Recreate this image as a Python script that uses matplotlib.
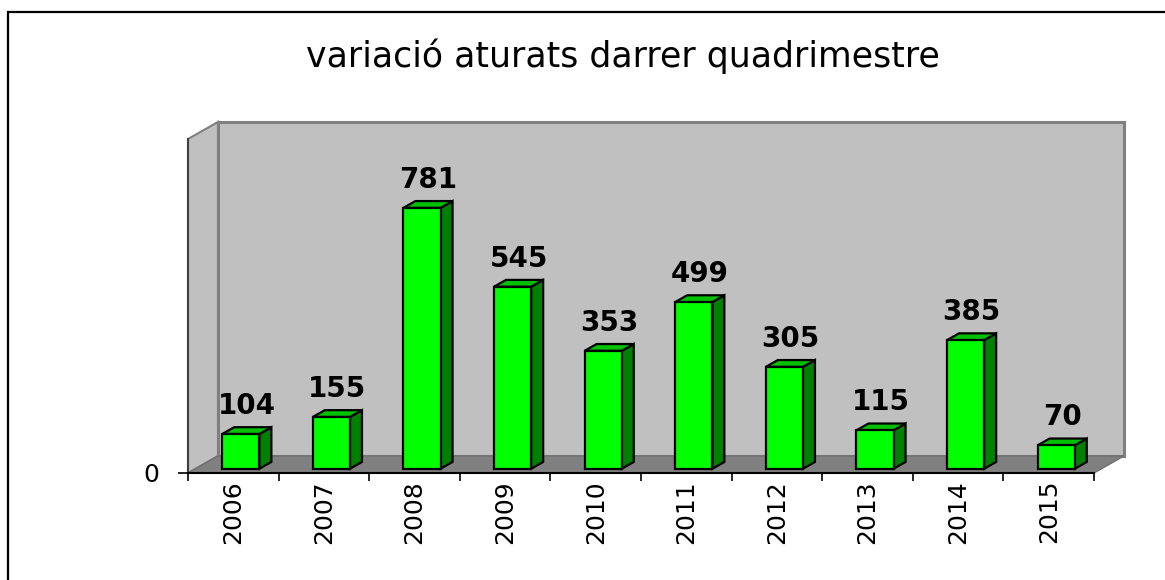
import matplotlib
matplotlib.use("Agg")
import matplotlib.pyplot as plt
from matplotlib.patches import Polygon, Rectangle

years = ["2006", "2007", "2008", "2009", "2010", "2011", "2012", "2013", "2014", "2015"]
values = [104, 155, 781, 545, 353, 499, 305, 115, 385, 70]
title = "variació aturats darrer quadrimestre"

W, H = 1165, 580
fig = plt.figure(figsize=(W / 100, H / 100), dpi=100)

# front plane of the plot area, in pixels
left, bottom, width, height = 188, 580 - 473, 906, 334
ax = fig.add_axes([left / W, bottom / H, width / W, height / H])
ax.set_xlim(0, len(years))
ax.set_ylim(0, 1000)
ax.patch.set_visible(False)

# depth of the 3d box (in data units)
dx, dy = 0.331, 51

# walls and floor
n = len(years)
side = Polygon([(0, 0), (dx, dy), (dx, 1000 + dy), (0, 1000)], closed=True,
               facecolor="#c0c0c0", edgecolor="#808080", lw=1.5, clip_on=False, zorder=0)
back = Rectangle((dx, dy), n, 1000, facecolor="#c0c0c0", edgecolor="#808080",
                 lw=2.2, clip_on=False, zorder=0)
floor = Polygon([(0, 0), (n, 0), (n + dx, dy), (dx, dy)], closed=True,
                facecolor="#808080", edgecolor="#707070", lw=1, clip_on=False, zorder=1)
for p in (side, back, floor):
    ax.add_patch(p)

# bars
f0, f1, w = 0.25, 0.65, 0.41
bx, by = (f1 - f0) * dx, (f1 - f0) * dy
for i, v in enumerate(values):
    x0 = i + 0.5 - w / 2 + f0 * dx
    y0 = f0 * dy
    front = Rectangle((x0, y0), w, v, facecolor="#00ff00", edgecolor="black",
                      lw=1.6, clip_on=False, zorder=3)
    rside = Polygon([(x0 + w, y0), (x0 + w + bx, y0 + by), (x0 + w + bx, y0 + by + v),
                     (x0 + w, y0 + v)], closed=True, facecolor="#008000",
                    edgecolor="black", lw=1.6, clip_on=False, zorder=2)
    top = Polygon([(x0, y0 + v), (x0 + w, y0 + v), (x0 + w + bx, y0 + v + by),
                   (x0 + bx, y0 + v + by)], closed=True, facecolor="#00c000",
                  edgecolor="black", lw=1.6, clip_on=False, zorder=2)
    for p in (rside, top, front):
        ax.add_patch(p)
    ax.text(x0 + w / 2 + bx / 2, v + y0 + by + 40, str(v), ha="center", va="baseline",
            fontsize=20, fontweight="bold", zorder=4)

# axes
for s in ("top", "right"):
    ax.spines[s].set_visible(False)
ax.spines["left"].set_color("#404040")
ax.spines["left"].set_linewidth(1.5)
ax.spines["bottom"].set_linewidth(1.5)
ax.spines["bottom"].set_zorder(5)

ax.set_yticks([0])
ax.set_yticklabels(["0"], fontsize=18)
ax.tick_params(axis="y", length=7, width=1.2, pad=14)

ax.set_xticks([i + 0.5 for i in range(n)])
ax.set_xticklabels(years, rotation=90, fontsize=18)
ax.set_xticks(range(n + 1), minor=True)
ax.tick_params(axis="x", which="major", length=0, pad=5)
ax.tick_params(axis="x", which="minor", length=6, width=1.2)

fig.text(623 / W, 1 - 67 / H, title, ha="center", va="baseline", fontsize=25)

# chart area border
fig.patches.append(Rectangle((8 / W, -0.1), 1.2, 1.1 - 12 / H, transform=fig.transFigure,
                             facecolor="none", edgecolor="black", lw=1.6))

fig.savefig("out.png", dpi=100)
